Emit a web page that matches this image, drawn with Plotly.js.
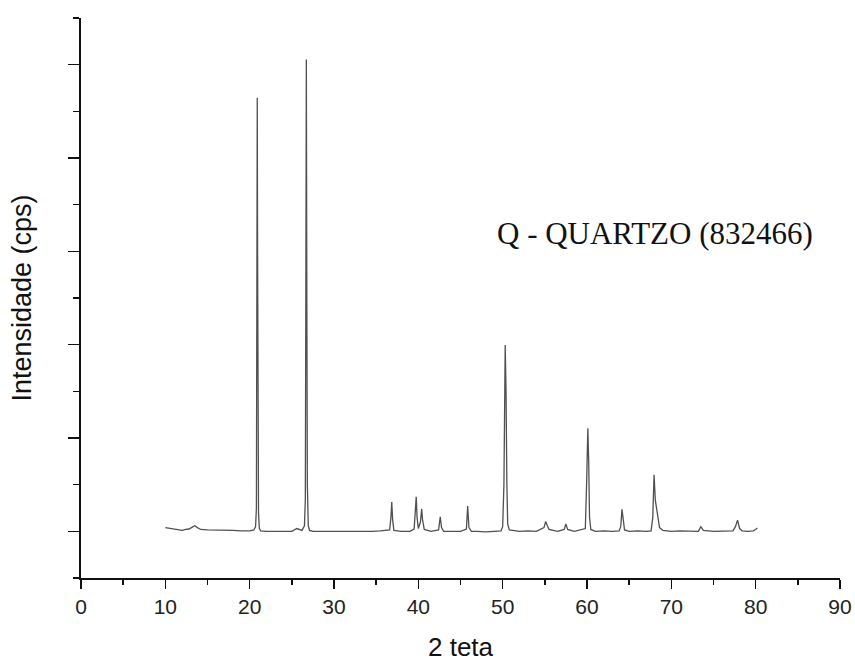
<!DOCTYPE html>
<html>
<head>
<meta charset="utf-8">
<script src="https://cdn.plot.ly/plotly-3.0.1.min.js"></script>
<style>
  html, body { margin: 0; padding: 0; background: #ffffff; }
  #chart { width: 855px; height: 662px; }
</style>
</head>
<body>
<div id="chart"></div>
<script>
// 2θ (degrees)
var twoTheta = [
  10.0, 10.4, 10.8, 11.2, 11.6, 12.0, 12.4, 12.8, 13.2, 13.5, 13.8, 14.2, 15.0, 16.0, 17.0, 18.0, 19.0, 20.0,
  20.5, 20.7, 20.8, 20.86, 20.9, 20.94, 20.98, 21.05, 21.15, 21.3, 22.0, 23.0, 24.0, 25.0, 25.6, 26.2,
  26.5, 26.6, 26.66, 26.72, 26.78, 26.84, 26.95, 27.1, 27.5, 28.5, 29.5, 30.5, 31.5, 32.5, 33.5, 34.5, 35.5,
  36.6, 36.75, 36.85, 36.95, 37.1, 38.0, 39.0, 39.5, 39.65, 39.75, 39.85, 40.0, 40.25, 40.4, 40.5, 40.7,
  41.5, 42.4, 42.6, 42.75, 43.0, 44.0, 45.0, 45.7, 45.85, 46.0, 46.3, 47.0, 48.0, 49.0, 49.8,
  50.0, 50.15, 50.3, 50.4, 50.5, 50.6, 50.8, 52.0, 53.0, 54.0, 54.9, 55.1, 55.3, 55.5, 56.5,
  57.3, 57.5, 57.7, 58.5, 59.8, 59.95, 60.1, 60.2, 60.3, 60.45, 61.0, 62.0, 63.0, 63.8,
  64.0, 64.15, 64.3, 64.45, 65.0, 66.0, 67.0, 67.6, 67.8, 67.95, 68.1, 68.25, 68.4, 68.6, 69.0,
  70.0, 71.0, 72.0, 73.2, 73.5, 73.8, 75.0, 76.0, 77.3, 77.6, 77.85, 78.1, 78.4, 79.0, 79.7, 80.0, 80.2
];
// Intensity (cps, arbitrary units)
var intensity = [
  108, 107, 106, 104, 103, 102, 104, 105, 109, 112, 108, 104, 103, 103, 102, 102, 101, 101,
  103, 110, 150, 450, 1029, 700, 300, 140, 106, 101, 100, 100, 99, 100, 106, 102,
  112, 170, 600, 1111, 600, 200, 112, 102, 100, 100, 99, 100, 100, 99, 100, 100, 101,
  103, 130, 163, 125, 102, 100, 100, 105, 140, 174, 130, 106, 120, 148, 125, 104,
  100, 103, 131, 108, 100, 100, 100, 105, 154, 108, 100, 100, 99, 100, 101,
  110, 200, 499, 400, 200, 115, 103, 100, 101, 100, 108, 121, 112, 104, 100,
  104, 116, 104, 100, 106, 200, 321, 250, 130, 104, 100, 101, 100, 101,
  110, 147, 120, 103, 100, 101, 100, 101, 130, 221, 167, 150, 130, 108, 102,
  100, 101, 100, 100, 110, 102, 100, 100, 101, 110, 124, 106, 101, 100, 101, 104, 107
];

var xTickVals = [0, 10, 20, 30, 40, 50, 60, 70, 80, 90];
var xTickText = ['0', '10', '20', '30', '40', '50', '60', '70', '80', '90'];
var xTitle = '2 teta';
var yTitle = 'Intensidade (cps)';
var phaseLabel = 'Q - QUARTZO (832466)';

var trace = {
  x: twoTheta,
  y: intensity,
  type: 'scatter',
  mode: 'lines',
  line: { color: '#505050', width: 1.3 },
  hoverinfo: 'x+y'
};

var axisFont = { family: 'Liberation Sans, Arial, sans-serif', size: 21, color: '#222222' };

var layout = {
  width: 855,
  height: 662,
  margin: { l: 81, r: 15, t: 18, b: 84, pad: 0 },
  paper_bgcolor: '#ffffff',
  plot_bgcolor: '#ffffff',
  showlegend: false,
  xaxis: {
    range: [0, 90],
    tickmode: 'array',
    tickvals: xTickVals,
    ticktext: xTickText,
    ticks: 'outside',
    ticklen: 9,
    tickwidth: 1.5,
    tickcolor: '#111111',
    showline: true,
    linecolor: '#111111',
    linewidth: 1.8,
    showgrid: false,
    zeroline: false,
    tickfont: axisFont,
    minor: { dtick: 5, tick0: 0, ticks: 'outside', ticklen: 5, tickwidth: 1.5, tickcolor: '#111111', showgrid: false },
    title: { text: xTitle, font: { family: 'Liberation Sans, Arial, sans-serif', size: 26, color: '#111111' }, standoff: 23 }
  },
  yaxis: {
    range: [0, 1200],
    tickmode: 'linear',
    tick0: 100,
    dtick: 200,
    showticklabels: false,
    ticks: 'outside',
    ticklen: 11,
    tickwidth: 1.5,
    tickcolor: '#111111',
    showline: true,
    linecolor: '#111111',
    linewidth: 1.8,
    showgrid: false,
    zeroline: false,
    minor: { dtick: 200, tick0: 0, ticks: 'outside', ticklen: 6, tickwidth: 1.5, tickcolor: '#111111', showgrid: false },
    title: { text: yTitle, font: { family: 'Liberation Sans, Arial, sans-serif', size: 27, color: '#111111' }, standoff: 29 }
  },
  annotations: [{
    x: 49.1,
    y: 738,
    xref: 'x',
    yref: 'y',
    xanchor: 'left',
    yanchor: 'middle',
    text: phaseLabel,
    showarrow: false,
    font: { family: 'Liberation Serif, Times New Roman, serif', size: 31, color: '#111111' }
  }]
};

Plotly.newPlot('chart', [trace], layout, { displayModeBar: false, staticPlot: true });
</script>
</body>
</html>
